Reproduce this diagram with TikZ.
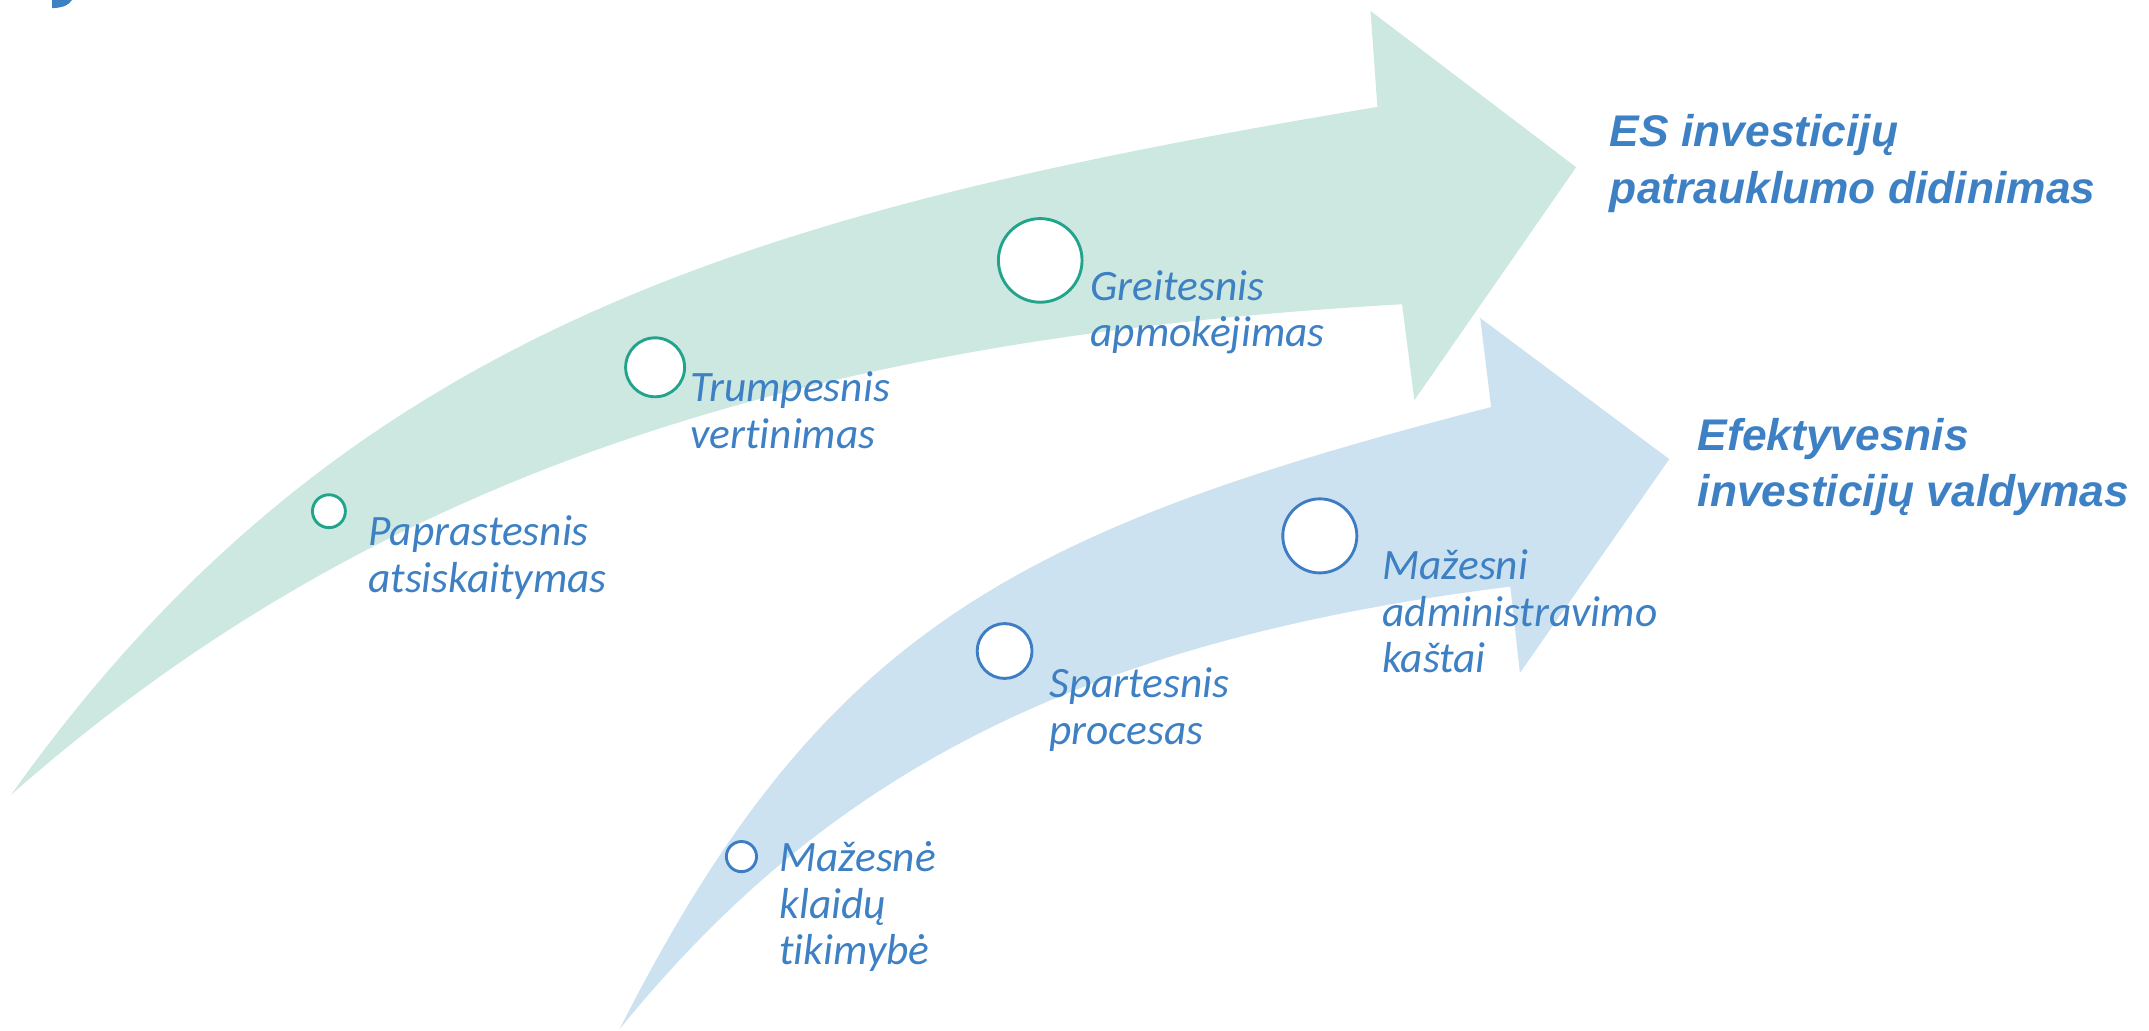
\documentclass[tikz,border=0pt]{standalone}
\usepackage{fontspec}
\setmainfont{Carlito}[Ligatures=NoCommon]
\newfontfamily\headfont{Liberation Sans}[Ligatures=NoCommon]
\definecolor{bandgreen}{HTML}{CDE8E1}
\definecolor{bandblue}{HTML}{CCE2F0}
\definecolor{ringgreen}{HTML}{22A38B}
\definecolor{ringblue}{HTML}{3E7DC3}
\definecolor{textblue}{HTML}{3E80C4}
\begin{document}
\begin{tikzpicture}[x=0.01cm,y=-0.01cm,
    lbl/.style={anchor=base west,inner sep=0pt,align=left,text=textblue,
      font=\fontsize{9}{9.67}\selectfont\itshape},
    head/.style={anchor=base west,inner sep=0pt,align=left,text=textblue,
      font=\headfont\fontsize{9.2}{11.78}\selectfont\bfseries\itshape},
    gring/.style={circle,draw=ringgreen,fill=white,line width=0.6pt,inner sep=0pt},
    bring/.style={circle,draw=ringblue,fill=white,line width=0.6pt,inner sep=0pt}]
  \useasboundingbox (0,0) rectangle (1568,752.2);
  % cut-off title at the top
  \fill[textblue] (38,0) -- (52.5,0) .. controls (50,4) and (46,5.5) .. (38,6) -- cycle;
  % green arrow
  \fill[bandgreen] (8,580) .. controls (250,240) and (550,154) .. (1005,78) -- (1000,8)
    -- (1150,122) -- (1032,292) -- (1023,222) .. controls (600,246) and (280,340) .. (8,580) -- cycle;
  % blue arrow
  \fill[bandblue] (452,751) .. controls (599,461) and (739,387) .. (1088,297) -- (1080,232)
    -- (1218,335) -- (1109,491) -- (1102,428) .. controls (780,468) and (599,570) .. (452,751) -- cycle;
  % rings
  \node[gring,minimum size=0.24cm] (pap) at (240,373) {};
  \node[gring,minimum size=0.43cm] (tru) at (478,268) {};
  \node[gring,minimum size=0.61cm] (gre) at (759,190) {};
  \node[bring,minimum size=0.22cm] (maz) at (541,625) {};
  \node[bring,minimum size=0.40cm] (spa) at (733,475) {};
  \node[bring,minimum size=0.54cm] (adm) at (963,391) {};
  % labels (placed at the baseline of the last line)
  \node[lbl] (papl) at (268,432) {Paprastesnis\\atsiskaitymas};
  \node[lbl] (trul) at (503,327) {Trumpesnis\\vertinimas};
  \node[lbl] (grel) at (795,253) {Greitesnis\\apmokėjimas};
  \node[lbl] (mazl) at (568,704) {Mažesnė\\klaidų\\tikimybė};
  \node[lbl] (spal) at (765,543) {Spartesnis\\procesas};
  \node[lbl] (adml) at (1008,491) {Mažesni\\administravimo\\kaštai};
  \node[head] (es) at (1174,148.4) {ES investicijų\\patrauklumo didinimas};
  \node[head] (ef) at (1238,369.8) {Efektyvesnis\\investicijų valdymas};
\end{tikzpicture}
\end{document}
